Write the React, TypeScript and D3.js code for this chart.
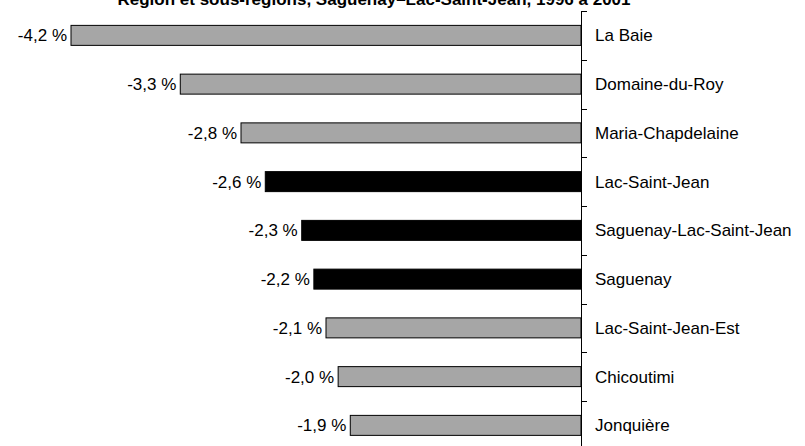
import React from "react";
import * as d3 from "d3";

const title = "Région et sous-régions, Saguenay–Lac-Saint-Jean, 1996 à 2001";
const categories = [
  "La Baie",
  "Domaine-du-Roy",
  "Maria-Chapdelaine",
  "Lac-Saint-Jean",
  "Saguenay-Lac-Saint-Jean",
  "Saguenay",
  "Lac-Saint-Jean-Est",
  "Chicoutimi",
  "Jonquière",
];
const values = [-4.2, -3.3, -2.8, -2.6, -2.3, -2.2, -2.1, -2.0, -1.9];
const highlighted = [false, false, false, true, true, true, false, false, false];

const W = 805;
const H = 446;
const FONT = "Liberation Sans, Arial, sans-serif";

export default function App() {
  const x = d3.scaleLinear().domain([-4.2, 0]).range([71, 581]);
  const y = d3.scaleBand<string>().domain(categories).range([11, 11 + 48.75 * 9]).paddingInner(0.59).paddingOuter(0.295);
  const step = y.step();
  const ticks = d3.range(categories.length + 1).map((i) => 11 + i * step);
  const fmt = (v: number) => v.toFixed(1).replace(".", ",") + " %";

  return (
    <svg width={W} height={H} style={{ position: "absolute", left: 0, top: 0, background: "#fff" }} fontFamily={FONT}>
      <rect x={0} y={0} width={W} height={H} fill="#fff" />
      <text x={374} y={5} textAnchor="middle" fontWeight="bold" fontSize={17} fill="#000">
        {title}
      </text>
      {categories.map((c, i) => {
        const v = values[i];
        const x0 = x(v);
        const yb = y(c)!;
        const bh = y.bandwidth();
        return (
          <g key={c}>
            <rect
              x={x0}
              y={yb}
              width={x(0) - x0}
              height={bh}
              fill={highlighted[i] ? "#000" : "#a6a6a6"}
              stroke="#000"
              strokeWidth={1}
            />
            <text x={x0 - 4} y={yb + bh / 2} dy="0.35em" textAnchor="end" fontSize={17} fill="#000">
              {fmt(v)}
            </text>
            <text x={595} y={yb + bh / 2} dy="0.35em" textAnchor="start" fontSize={17} fill="#000">
              {c}
            </text>
          </g>
        );
      })}
      <line x1={581.5} x2={581.5} y1={ticks[0]} y2={H} stroke="#000" strokeWidth={1} />
      {ticks.map((t, i) => (
        <line key={i} x1={581.5} x2={587} y1={Math.round(t) + 0.5} y2={Math.round(t) + 0.5} stroke="#000" strokeWidth={1} />
      ))}
    </svg>
  );
}
